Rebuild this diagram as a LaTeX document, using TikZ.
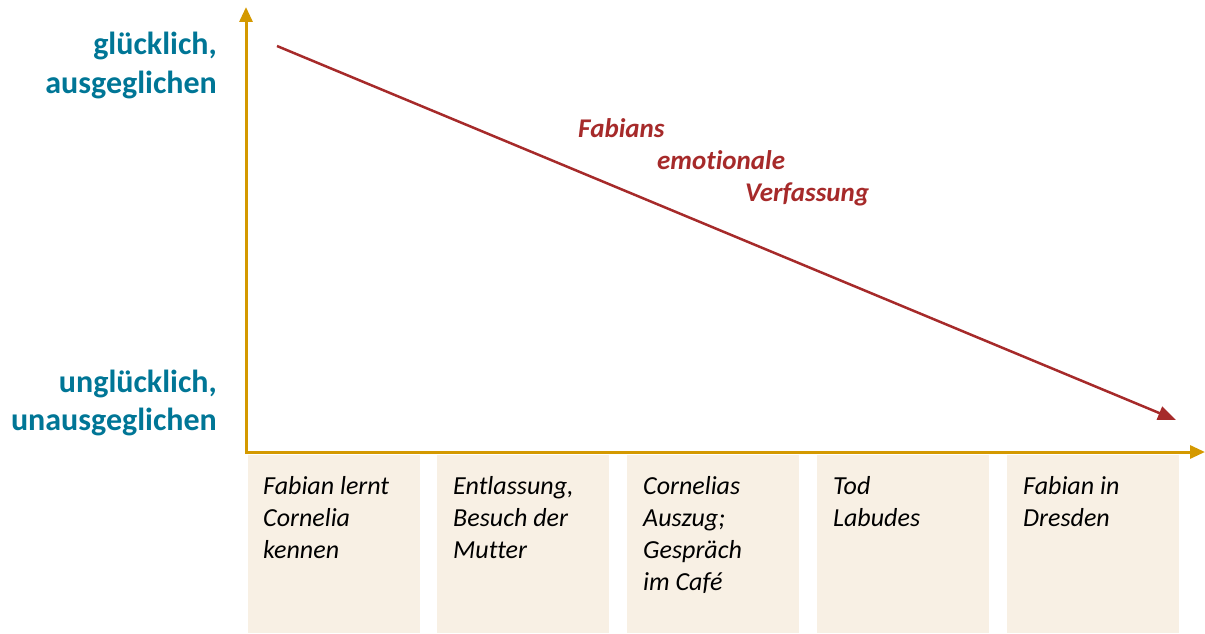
\documentclass[tikz,border=0pt]{standalone}
\usepackage{fontspec}
\setmainfont{Carlito}[Ligatures=NoCommon]
\usetikzlibrary{arrows.meta}
\definecolor{axisgold}{RGB}{212,153,0}
\definecolor{curvered}{RGB}{166,42,42}
\definecolor{labelteal}{RGB}{0,118,150}
\definecolor{boxbeige}{RGB}{248,240,228}
\tikzset{
  box/.style={fill=boxbeige, draw=none, anchor=north west, minimum width=172pt, minimum height=178pt, inner sep=0pt},
  evt/.style={anchor=north west, inner sep=0pt, align=left, font=\fontsize{26}{32}\selectfont\itshape},
  ylab/.style={anchor=base east, inner sep=0pt, text=labelteal, font=\fontsize{32}{38}\selectfont\bfseries},
  rlab/.style={anchor=base west, inner sep=0pt, text=curvered, font=\fontsize{27}{32}\selectfont\bfseries\itshape},
}
\begin{document}
\begin{tikzpicture}[x=1pt,y=-1pt]
\useasboundingbox (0,0) rectangle (1205,634);
% boxes
\node[box] (b1) at (248,455) {};
\node[box] (b2) at (437,455) {};
\node[box] (b3) at (627,455) {};
\node[box] (b4) at (817,455) {};
\node[box] (b5) at (1007,455) {};
\node[evt] (t1) at (263,476) {Fabian lernt\\Cornelia\\kennen};
\node[evt] (t2) at (453,476) {Entlassung,\\Besuch der\\Mutter};
\node[evt] (t3) at (643,476) {Cornelias\\Auszug;\\Gespräch\\im Café};
\node[evt] (t4) at (833,476) {Tod\\Labudes};
\node[evt] (t5) at (1023,476) {Fabian in\\Dresden};
% axes
\coordinate (O) at (246,452);
\coordinate (ytop) at (246,7);
\coordinate (xend) at (1205,452);
\draw[axisgold, line width=3pt, {Triangle[length=15pt,width=13pt]}-{Triangle[length=15pt,width=13pt]}] (ytop) -- (O) -- (xend);
% y labels
\node[ylab] (g1) at (217,55) {glücklich,};
\node[ylab] (g2) at (217,93) {ausgeglichen};
\node[ylab] (u1) at (217,392) {unglücklich,};
\node[ylab] (u2) at (217,430) {unausgeglichen};
% red line
\coordinate (rs) at (277,46);
\coordinate (re) at (1176,420);
\draw[curvered, line width=2.5pt, -{Triangle[length=18pt,width=14pt]}] (rs) -- (re);
\node[rlab] (r1) at (578,137) {Fabians};
\node[rlab] (r2) at (657,169) {emotionale};
\node[rlab] (r3) at (745,201) {Verfassung};
\end{tikzpicture}
\end{document}
